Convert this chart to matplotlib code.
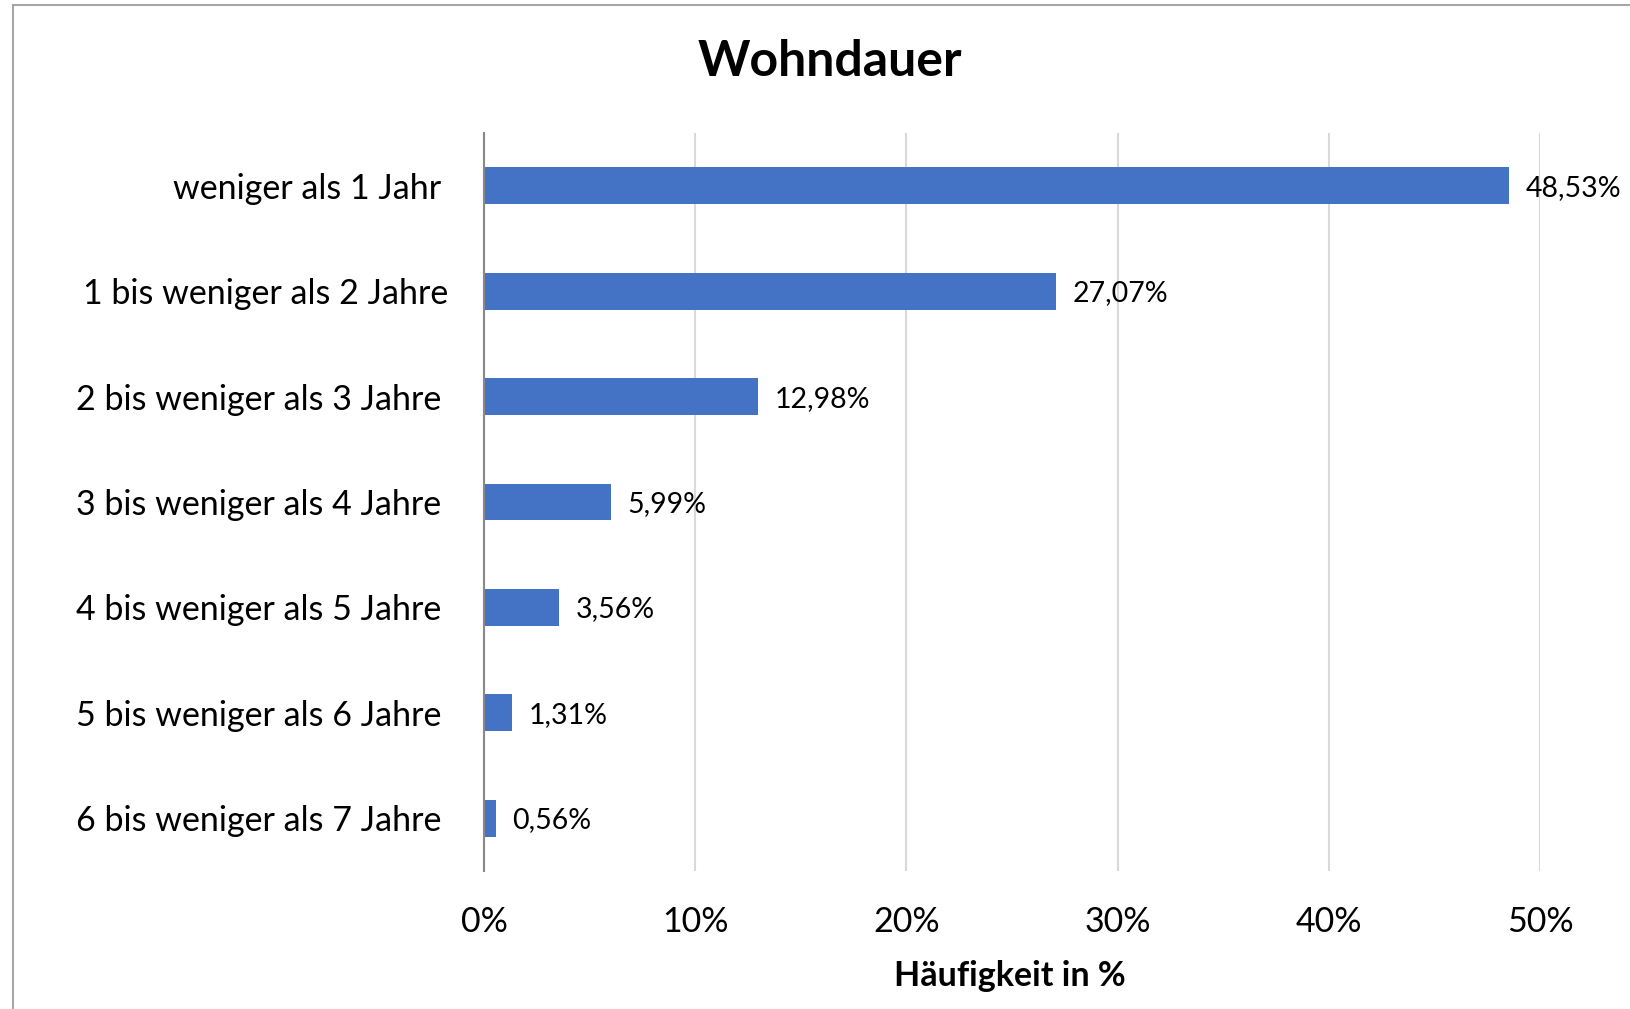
import matplotlib
matplotlib.use("Agg")
import matplotlib.pyplot as plt
from matplotlib.lines import Line2D

categories = [
    "weniger als 1 Jahr",
    "1 bis weniger als 2 Jahre",
    "2 bis weniger als 3 Jahre",
    "3 bis weniger als 4 Jahre",
    "4 bis weniger als 5 Jahre",
    "5 bis weniger als 6 Jahre",
    "6 bis weniger als 7 Jahre",
]
values = [48.53, 27.07, 12.98, 5.99, 3.56, 1.31, 0.56]
value_labels = ["48,53%", "27,07%", "12,98%", "5,99%", "3,56%", "1,31%", "0,56%"]
xticks = [0, 10, 20, 30, 40, 50]
xtick_labels = ["0%", "10%", "20%", "30%", "40%", "50%"]
title = "Wohndauer"
xlabel = "Häufigkeit in %"

plt.rcParams['font.family'] = ['Lato', 'DejaVu Sans']

W, H = 1630, 1009
fig = plt.figure(figsize=(W / 100, H / 100), dpi=100)
fig.patch.set_facecolor("white")

ax = fig.add_axes([484 / W, 1 - 871 / H, (1540 - 484) / W, (871 - 133) / H])

ypos = list(range(len(categories)))
ax.barh(ypos, values, height=0.35, color="#4472C4", zorder=3)
ax.set_ylim(len(categories) - 0.5, -0.5)
ax.set_xlim(0, 50)

ax.set_yticks(ypos)
ax.set_yticklabels(categories, fontsize=24.5)
ax.set_xticks(xticks)
ax.set_xticklabels(xtick_labels, fontsize=24.5)
ax.tick_params(axis="both", length=0)
ax.tick_params(axis="y", pad=31)
ax.tick_params(axis="x", pad=25)
# Excel places the second category label slightly further right
ax.get_yticklabels()[1].set_x(7 / 1056)

ax.grid(axis="x", color="#D9D9D9", linewidth=1.5, zorder=0)
for s in ["top", "right", "bottom"]:
    ax.spines[s].set_visible(False)
ax.spines["left"].set_color("#898989")
ax.spines["left"].set_linewidth(1.5)
ax.spines["left"].set_zorder(4)

for y, v, lab in zip(ypos, values, value_labels):
    ax.annotate(lab, xy=(v, y), xytext=(12, -1.5), textcoords="offset points",
                va="center", ha="left", fontsize=20.5)

fig.text(830 / W, 1 - 62 / H, title, ha="center", va="center",
         fontsize=36, fontweight="bold")
fig.text(1010 / W, 1 - 976 / H, xlabel, ha="center", va="center",
         fontsize=24.5, fontweight="bold")

# outer chart border (left and top visible)
fig.add_artist(Line2D([12.5 / W, 12.5 / W], [0, 1 - 4.5 / H], transform=fig.transFigure,
                      color="#A6A6A6", linewidth=1.5))
fig.add_artist(Line2D([12.5 / W, 1], [1 - 4.5 / H, 1 - 4.5 / H], transform=fig.transFigure,
                      color="#A6A6A6", linewidth=1.5))

fig.savefig("out.png", dpi=100, facecolor="white")
